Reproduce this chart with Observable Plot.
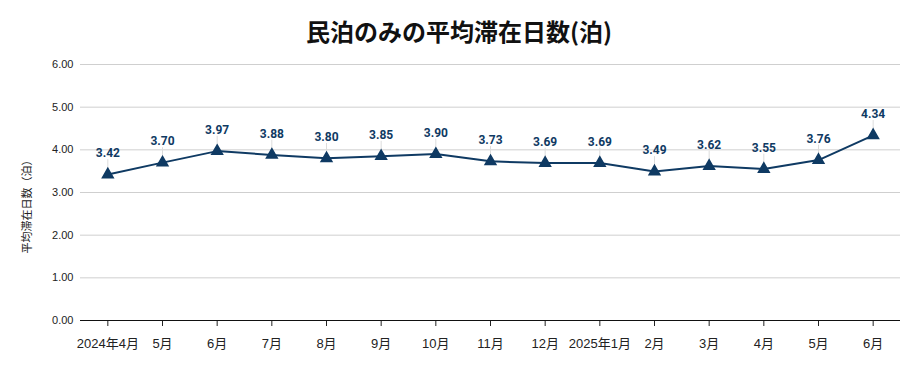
<!DOCTYPE html>
<html>
<head>
<meta charset="utf-8">
<script src="https://cdn.jsdelivr.net/npm/d3@7"></script>
<script src="https://cdn.jsdelivr.net/npm/@observablehq/plot@0.6"></script>
<style>
  body { margin: 0; background: #fff; position: relative; }
  #title { height: 50px; line-height: 61px; text-align: center; font-family: "Noto Sans CJK JP", sans-serif; font-weight: 700; font-size: 24px; color: #111; }
  #ylabel { position: absolute; left: 26px; top: 204px; transform: translate(-50%, -50%) rotate(-90deg); white-space: nowrap; font-family: "Noto Sans CJK JP", sans-serif; font-size: 11px; color: #222; }
</style>
</head>
<body>
<div id="title">民泊のみの平均滞在日数(泊)</div>
<div id="ylabel"></div>
<div id="chart"></div>
<script>
const months = ["2024-04","2024-05","2024-06","2024-07","2024-08","2024-09","2024-10","2024-11","2024-12","2025-01","2025-02","2025-03","2025-04","2025-05","2025-06"];
const tickLabels = ["2024年4月","5月","6月","7月","8月","9月","10月","11月","12月","2025年1月","2月","3月","4月","5月","6月"];
const values = [3.42, 3.70, 3.97, 3.88, 3.80, 3.85, 3.90, 3.73, 3.69, 3.69, 3.49, 3.62, 3.55, 3.76, 4.34];
const yTicks = [0, 1, 2, 3, 4, 5, 6];
const yLabel = "平均滞在日数（泊）";

document.getElementById("ylabel").textContent = yLabel;

const data = months.map((m, i) => ({month: m, value: values[i]}));
const labelOf = new Map(months.map((m, i) => [m, tickLabels[i]]));
const navy = "#0f3a63";
const sans = "'Liberation Sans', Arial, 'Noto Sans CJK JP', sans-serif";

const leader = {draw(context, l) { context.moveTo(0, 0); context.lineTo(0, -l); }};

const chart = Plot.plot({
  width: 918,
  height: 315,
  marginTop: 14,
  marginBottom: 45,
  marginLeft: 80,
  marginRight: 18,
  style: {fontFamily: sans, fontSize: "11px", color: "#222"},
  x: {type: "point", domain: months, padding: 0.5, round: false},
  y: {domain: [0, 6]},
  marks: [
    Plot.ruleY(yTicks.filter(d => d > 0), {stroke: "#cfcfcf", strokeWidth: 1}),
    Plot.axisY(yTicks, {tickSize: 0, tickPadding: 7, tickFormat: d => d.toFixed(2), label: null, fontSize: 11, fontFamily: sans}),
    Plot.axisX({tickSize: 6, tickPadding: 12, tickFormat: d => labelOf.get(d), label: null, fontSize: 13, fontFamily: sans}),
    Plot.ruleY([0], {stroke: "#111", strokeWidth: 1.2}),
    Plot.vector(data, {x: "month", y: "value", length: 10, anchor: "start", rotate: 0, shape: leader, stroke: "#dcdcdc", strokeWidth: 1, dy: -5}),
    Plot.line(data, {x: "month", y: "value", stroke: navy, strokeWidth: 2}),
    Plot.dot(data, {x: "month", y: "value", symbol: "triangle", r: 4, fill: navy, stroke: navy}),
    Plot.text(data, {x: "month", y: "value", text: d => d.value.toFixed(2), dy: -21, fill: navy, fontWeight: "bold", fontSize: 12, fontFamily: "Roboto, sans-serif"})
  ]
});
document.getElementById("chart").appendChild(chart);
</script>
</body>
</html>
